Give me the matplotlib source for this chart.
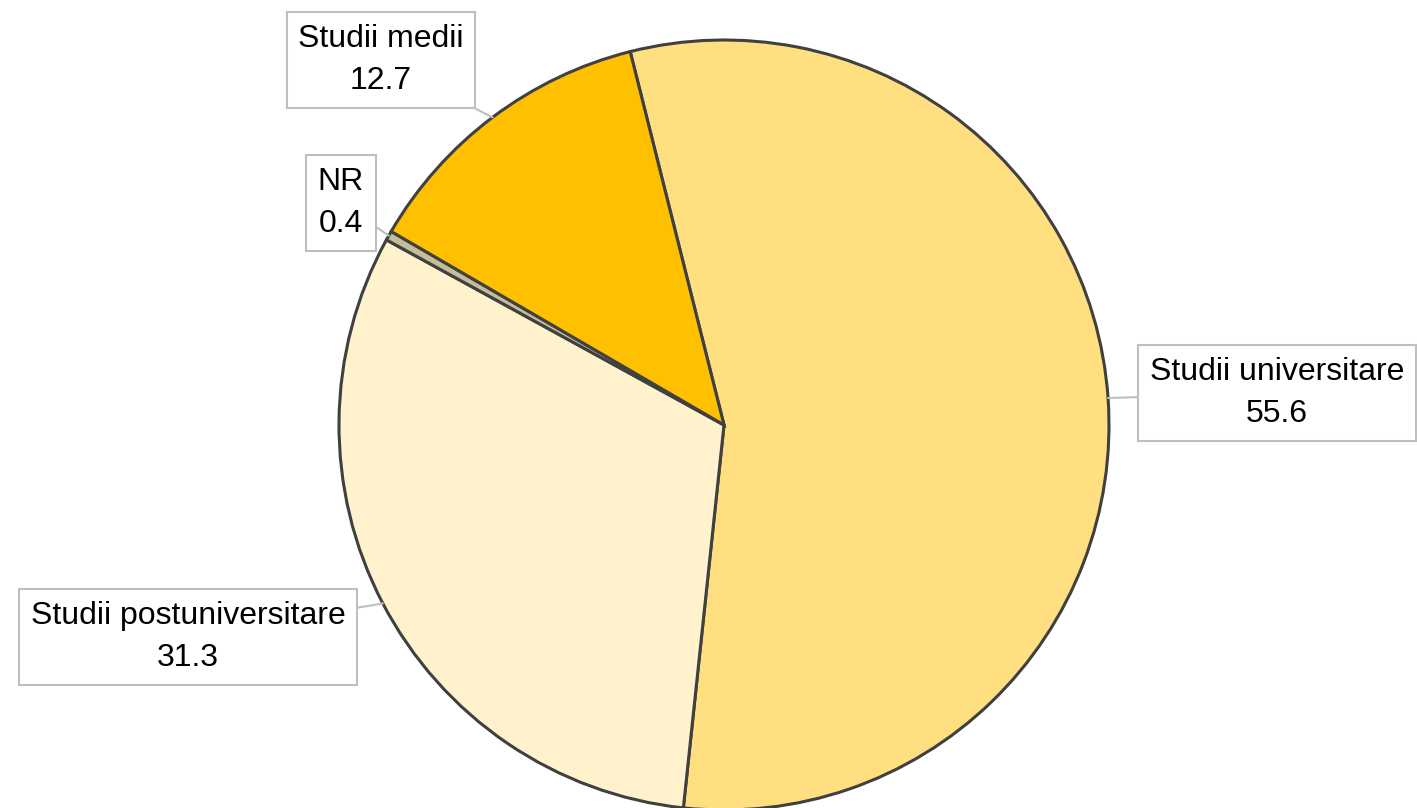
import numpy as np
import matplotlib.pyplot as plt

labels = ['Studii universitare', 'Studii postuniversitare', 'NR', 'Studii medii']
values = [55.6, 31.3, 0.4, 12.7]
colors = ['#FFDF80', '#FFF2CC', '#C4BD97', '#FFC000']
# label box centres in figure pixels (from top-left)
label_pos = [(1277, 393), (188, 637), (341, 203), (381, 60)]

W, H = 1417, 808
plt.rcParams['font.family'] = ['Liberation Sans', 'DejaVu Sans']

fig = plt.figure(figsize=(W / 100, H / 100), dpi=100)
cx, cy, r = 724, 425, 385
ax = fig.add_axes([(cx - r) / W, (H - cy - r) / H, 2 * r / W, 2 * r / H])

wedges, _ = ax.pie(values, colors=colors, startangle=104.1, counterclock=False,
                   radius=1.0,
                   wedgeprops=dict(edgecolor='#404040', linewidth=2.2))
ax.set_xlim(-1, 1)
ax.set_ylim(-1, 1)
ax.set_aspect('equal')
ax.axis('off')

for w, lab, val, (px, py) in zip(wedges, labels, values, label_pos):
    ang = np.deg2rad((w.theta1 + w.theta2) / 2)
    xy = (np.cos(ang), np.sin(ang))
    ax.annotate(f'{lab}\n{val}', xy=xy, xycoords='data',
                xytext=(px, H - py), textcoords='figure pixels',
                ha='center', va='center', multialignment='center',
                fontsize=23, linespacing=1.55, color='black',
                bbox=dict(boxstyle='square,pad=0.36', fc='white', ec='#BFBFBF', lw=1.5),
                arrowprops=dict(arrowstyle='-', color='#BFBFBF', lw=1.5,
                                shrinkA=0, shrinkB=0),
                annotation_clip=False)

fig.savefig('out.png', dpi=100)
